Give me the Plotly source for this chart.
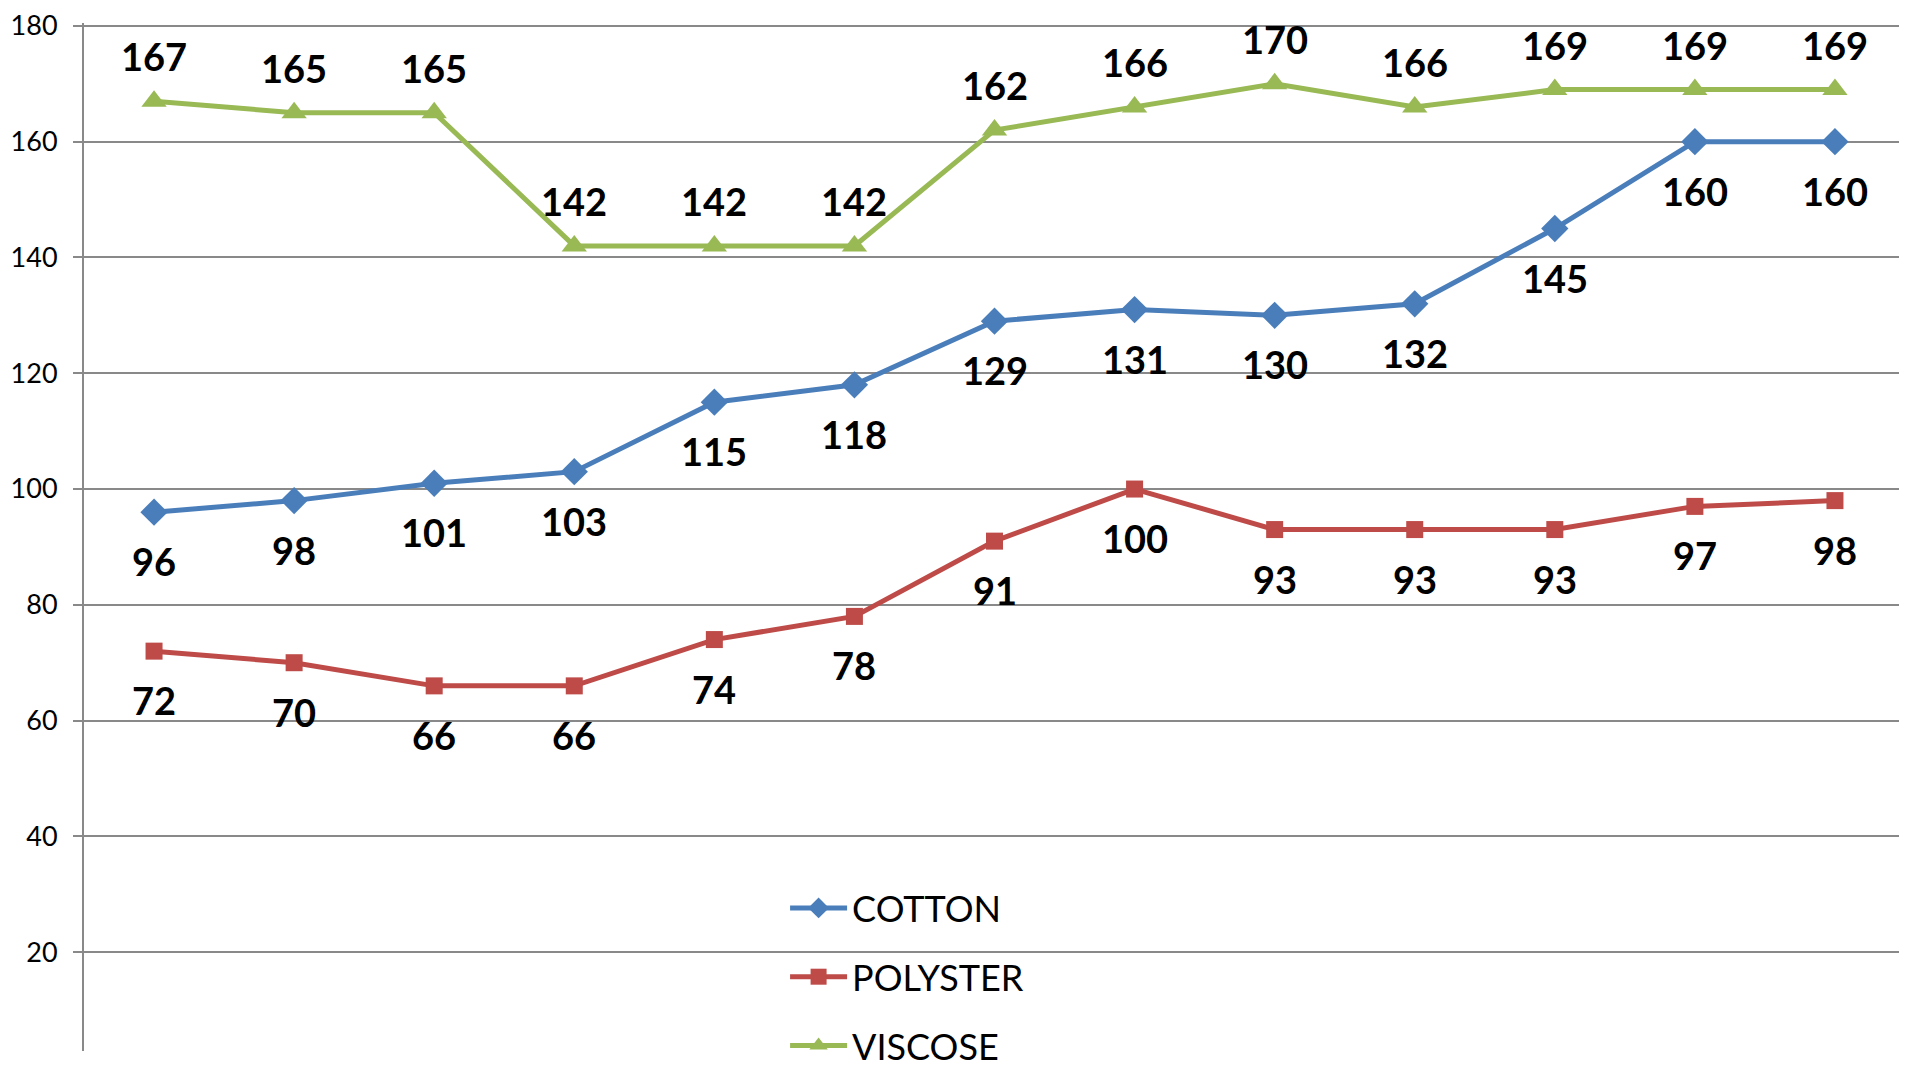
import plotly.graph_objects as go

points = list(range(13))
cotton = [96, 98, 101, 103, 115, 118, 129, 131, 130, 132, 145, 160, 160]
polyster = [72, 70, 66, 66, 74, 78, 91, 100, 93, 93, 93, 97, 98]
viscose = [167, 165, 165, 142, 142, 142, 162, 166, 170, 166, 169, 169, 169]
y_ticks = [20, 40, 60, 80, 100, 120, 140, 160, 180]

series = [
    ("COTTON", cotton, "#4A7EBB", "diamond", 21, -49),
    ("POLYSTER", polyster, "#BE4B48", "square", 17, -49),
    ("VISCOSE", viscose, "#98B954", "triangle-up", 22, 45),
]

fig = go.Figure()
annotations = []
for i, (name, vals, color, sym, msize, shift) in enumerate(series):
    fig.add_trace(go.Scatter(
        x=points, y=vals, name=name, mode="lines+markers",
        line=dict(color=color, width=5),
        marker=dict(symbol=sym, size=msize, color=color),
        legendgroup=name,
    ))
    for xv, yv in zip(points, vals):
        annotations.append(dict(
            x=xv, y=yv, text=str(yv), showarrow=False, yshift=shift,
            xanchor="center", yanchor="middle",
            font=dict(family="Lato", size=38, color="black", weight="bold"),
        ))

fig.update_layout(
    width=1907, height=1068,
    margin=dict(l=76, r=10, t=7, b=0),
    paper_bgcolor="white", plot_bgcolor="white",
    font=dict(family="Lato", color="black"),
    annotations=annotations,
    showlegend=True,
    legend=dict(
        x=0.385, y=0.168, xanchor="left", yanchor="top",
        font=dict(family="Lato", size=36, color="black"),
        tracegroupgap=19, bgcolor="rgba(0,0,0,0)",
        itemwidth=57,
    ),
    xaxis=dict(
        range=[-0.5, 12.5], showticklabels=False, showgrid=False,
        zeroline=False, showline=False, ticks="",
    ),
    yaxis=dict(
        range=[2.93, 180.5], tickvals=y_ticks,
        ticktext=[str(v) for v in y_ticks],
        showgrid=True, gridcolor="#898989", gridwidth=2,
        showline=True, linecolor="#898989", linewidth=2,
        ticks="outside", ticklen=9, tickcolor="#898989", tickwidth=2,
        ticklabelstandoff=10, ticklabeloverflow="allow",
        tickfont=dict(family="Lato", size=27, color="black"),
        zeroline=False,
    ),
)

fig.write_html("out.html")
